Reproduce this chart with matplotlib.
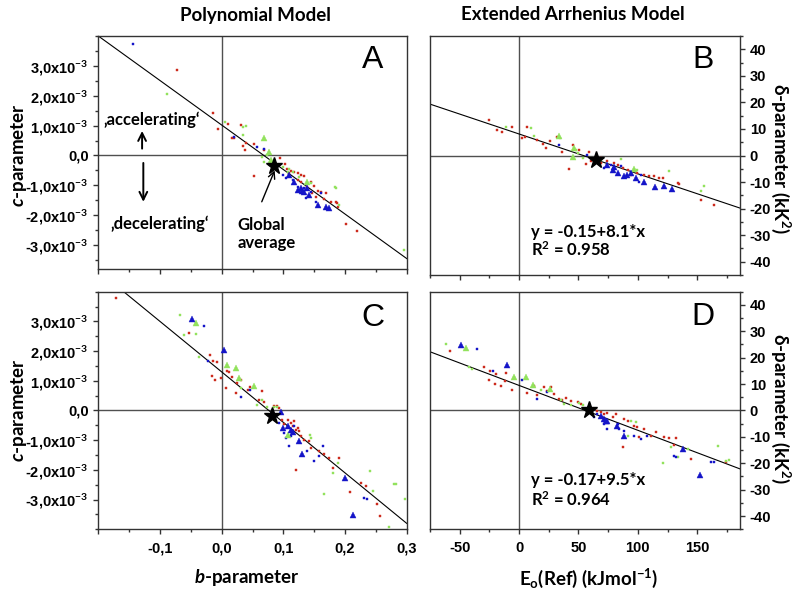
import matplotlib
matplotlib.use("Agg")
import matplotlib.pyplot as plt
from matplotlib.ticker import FixedLocator, MultipleLocator, NullFormatter

# ---- data (A/C y values in units of 1e-3) ----
a_red = [(-0.072, 2.85), (-0.0135, 1.43), (-0.006, 0.90), (0.010, 1.05), (0.032, 1.02),
         (0.016, 0.60), (0.020, 0.59), (0.039, 0.42), (0.034, 0.31), (0.052, 0.40),
         (0.038, 0.20), (0.069, 0.18), (0.053, -0.68), (0.095, -0.07), (0.102, -0.27),
         (0.106, -0.44), (0.112, -0.51), (0.118, -0.55), (0.124, -0.58), (0.128, -0.66),
         (0.134, -0.69), (0.145, -0.88), (0.150, -1.03), (0.157, -1.18), (0.161, -1.22),
         (0.169, -1.27), (0.178, -1.55), (0.185, -1.55), (0.188, -1.72), (0.147, -1.27),
         (0.139, -1.07), (0.124, -0.83), (0.109, -0.60), (0.128, -0.88), (0.153, -1.38),
         (0.166, -1.47), (0.187, -1.60), (0.202, -2.28), (0.219, -2.52)]
a_green = [(-0.089, 2.07), (0.005, 1.125), (0.035, 0.96), (0.039, 0.98), (0.034, 0.68),
           (0.069, -0.21), (0.073, 0.01), (0.099, -0.38), (0.1095, -0.44), (0.115, -0.55),
           (0.145, -0.915), (0.185, -1.105), (0.126, -0.715), (0.107, -0.55), (0.066, -0.046),
           (0.184, -1.07), (0.190, -1.65), (0.296, -3.17)]
a_green_tri = [(0.068, 0.60), (0.077, 0.12), (0.080, -0.135), (0.139, -0.88)]
a_blue = [(-0.1436, 3.72), (0.020, 0.62), (0.058, 0.29), (0.069, 0.23), (0.099, -0.66),
          (0.104, -0.77), (0.115, -0.83), (0.134, -1.105), (0.123, -1.05), (0.137, -1.41),
          (0.145, -1.22), (0.161, -1.27), (0.153, -1.55)]
a_blue_tri = [(0.1095, -0.66), (0.118, -0.88), (0.123, -1.14), (0.128, -1.105), (0.1295, -1.18),
              (0.139, -1.105), (0.142, -1.33), (0.156, -1.66), (0.169, -1.72), (0.1745, -1.77),
              (0.134, -1.22)]
a_star = (0.085, -0.35)
a_fit = (1.02, -14.9)   # intercept, slope

b_red = [(-25.3, 13.4), (-18.2, 9.7), (-14.0, 8.8), (-5.6, 10.7), (7.0, 10.9), (2.8, 6.5),
         (4.8, 6.8), (15.5, 5.9), (20.5, 4.3), (22.5, 3.0), (26.1, 5.3), (31.8, 7.0),
         (36.0, 1.3), (42.1, -5.0), (45.0, 4.0), (50.6, 2.1), (59.0, 1.5), (60.4, -2.2),
         (68.8, -1.0), (74.4, -2.2), (80.1, -2.9), (82.9, -3.5), (87.1, -4.7), (91.3, -5.4),
         (94.1, -7.3), (99.7, -6.6), (105.3, -7.3), (109.5, -7.9), (113.8, -7.9), (118.0, -8.5),
         (120.8, -8.5), (133.4, -10.4), (134.8, -10.8), (153.1, -16.7), (164.3, -18.5),
         (68.8, -2.9), (56.2, -3.2)]
b_green = [(-11.2, 10.9), (9.9, 10.3), (12.7, 7.5), (34.6, 6.5), (47.8, 2.1), (49.7, 0.9),
           (53.4, -1.0), (63.2, -1.6), (68.8, -1.6), (85.7, -1.4), (126.4, -5.8), (155.9, -11.6),
           (153.1, -13.3), (99.7, -5.4)]
b_green_tri = [(33.7, 7.5), (46.4, 3.0), (45.0, -0.4), (96.9, -5.0)]
b_blue = [(33.7, 4.0), (57.6, 0.3), (71.6, -4.7), (78.7, -5.4), (102.5, -7.3), (101.1, -10.0),
          (85.7, -4.1), (77.3, -3.5)]
b_blue_tri = [(74.4, -3.7), (80.1, -4.5), (82.9, -6.6), (88.5, -7.9), (90.7, -7.3), (94.1, -6.6),
              (98.3, -8.5), (105.3, -10.0), (114.3, -11.9), (121.6, -11.3), (128.4, -12.6),
              (78.7, -5.4)]
b_star = (64.6, -1.6)
b_fit = (8.1, -0.15)

c_red = [(-0.172, 3.79), (-0.053, 2.62), (-0.019, 1.86), (-0.0136, 1.66), (-0.007, 1.64),
         (-0.015, 1.16), (-0.010, 1.03), (-0.0016, 1.08), (0.008, 1.33), (0.012, 1.31),
         (0.0076, 0.75), (0.017, 1.12), (0.0255, 0.94), (0.031, 1.03), (0.024, 0.60),
         (0.042, 0.69), (0.046, 0.78), (0.066, 0.67), (0.061, 0.36), (0.068, 0.30),
         (0.085, 0.16), (0.0905, 0.16), (0.0986, -0.31), (0.107, -0.31), (0.112, -0.42),
         (0.118, -0.37), (0.115, -0.51), (0.120, -0.645), (0.126, -0.70), (0.1285, -0.87),
         (0.134, -0.98), (0.142, -1.04), (0.1447, -1.26), (0.158, -1.37), (0.166, -1.48),
         (0.1745, -1.59), (0.191, -1.59), (0.180, -1.93), (0.120, -2.01), (0.208, -2.76),
         (0.234, -2.54), (0.252, -3.15), (0.2575, -3.54), (0.093, 0.08), (0.101, -0.445),
         (0.123, -0.59), (0.226, -2.43)]
c_green = [(-0.067, 3.20), (-0.061, 2.53), (-0.042, 2.59), (-0.037, 1.81), (0.031, 0.75),
           (0.058, 0.19), (0.066, 0.36), (0.074, 0.13), (0.085, 0.13), (0.0905, 0.11),
           (0.112, -0.70), (0.1436, -0.81), (0.1447, -0.92), (0.180, -2.09), (0.188, -1.76),
           (0.166, -2.80), (0.240, -2.04), (0.245, -2.71), (0.283, -2.48), (0.2965, -2.99),
           (0.272, -3.93), (0.107, -0.87), (0.280, -2.46)]
c_green_tri = [(-0.042, 2.94), (0.009, 1.53), (0.024, 1.42), (0.028, 1.08), (0.053, 0.83),
               (0.107, -0.81)]
c_blue = [(-0.028, 2.84), (-0.022, 1.66), (0.031, 0.47), (0.046, 0.69), (0.093, -0.42),
          (0.101, -0.76), (0.104, -0.92), (0.1095, -1.18), (0.112, -0.87), (0.139, -1.37),
          (0.149, -1.70), (0.158, -1.54), (0.165, -1.20), (0.231, -2.93), (0.236, -2.99),
          (0.118, -0.53)]
c_blue_tri = [(-0.048, 3.07), (0.004, 2.05), (0.096, -0.066), (0.107, -0.51), (0.115, -0.73),
              (0.126, -1.04), (0.1295, -1.46), (0.2005, -2.28), (0.2125, -3.52), (0.100, -0.59),
              (0.112, -0.67)]
c_star = (0.081, -0.19)
c_fit = (1.30, -17.0)

d_red = [(-58.1, 22.7), (-29.5, 16.4), (-24.4, 14.9), (-19.6, 13.9), (-25.2, 11.4), (-20.5, 10.1),
         (-14.9, 9.1), (-12.0, 11.1), (-11.2, 14.1), (-5.6, 7.6), (-4.2, 12.4), (7.0, 6.6),
         (12.7, 9.1), (15.5, 5.7), (21.1, 8.8), (23.9, 7.2), (26.7, 8.8), (29.5, 6.1),
         (33.7, 4.4), (36.5, 3.8), (39.3, 4.8), (43.6, 3.5), (49.2, 3.4), (52.0, 2.3),
         (66.0, -0.25), (68.8, -0.6), (71.6, -1.3), (74.4, -1.0), (78.7, -2.5), (81.5, -1.5),
         (88.5, -3.2), (91.3, -3.8), (96.9, -5.7), (99.7, -6.3), (101.1, -10.1), (105.3, -6.9),
         (111.0, -9.5), (115.2, -8.2), (122.2, -10.1), (126.4, -10.4), (132.0, -10.4),
         (87.1, -13.9), (130.6, -12.9), (144.7, -18.3), (174.1, -19.6)]
d_green = [(-61.8, 25.3), (-42.1, 16.4), (-39.3, 15.8), (18.3, 7.6), (35.1, 3.8), (37.9, 2.5),
           (43.6, 1.9), (50.6, 2.8), (53.4, 1.9), (60.4, 0.6), (94.1, -3.8), (98.3, -4.2),
           (91.3, -9.5), (127.8, -13.9), (133.4, -17.7), (120.8, -20.0), (141.8, -14.5),
           (167.1, -13.3), (174.1, -19.2), (176.4, -18.7)]
d_green_tri = [(-44.9, 23.6), (-4.2, 12.6), (5.6, 12.6), (11.3, 9.5), (26.1, 8.2)]
d_blue = [(-35.1, 23.2), (-21.6, 14.9), (2.8, 11.6), (15.5, 4.4), (23.9, 6.9), (63.2, -2.5),
          (66.0, -1.5), (71.6, -5.1), (74.4, -6.9), (82.9, -5.3), (84.3, -6.9), (88.5, -7.6),
          (96.9, -9.5), (102.5, -10.7), (108.1, -9.5), (130.6, -17.4), (132.0, -17.7),
          (161.5, -19.6), (163.7, -19.6)]
d_blue_tri = [(-49.1, 24.9), (-10.4, 17.4), (59.0, 1.5), (68.8, -1.9), (71.6, -3.2), (74.4, -3.8),
              (82.3, -5.8), (88.5, -9.5), (137.6, -14.5), (152.5, -24.6), (73.0, -3.8)]
d_star = (58.5, 0.0)
d_fit = (9.5, -0.17)

poly_yticks = [-3, -2, -1, 0, 1, 2, 3]
poly_ylabels = ['-3,0x10$^{\\mathbf{-3}}$', '-2,0x10$^{\\mathbf{-3}}$', '-1,0x10$^{\\mathbf{-3}}$',
                '0,0', '1,0x10$^{\\mathbf{-3}}$', '2,0x10$^{\\mathbf{-3}}$', '3,0x10$^{\\mathbf{-3}}$']
poly_xticks = [-0.2, -0.1, 0.0, 0.1, 0.2, 0.3]
poly_xlabels = ['', '-0,1', '0,0', '0,1', '0,2', '0,3']
arr_yticks = [-40, -30, -20, -10, 0, 10, 20, 30, 40]
arr_xticks = [-50, 0, 50, 100, 150]

RED = '#cc2a1c'
GREEN = '#92e25c'
BLUE = '#1414c8'
TICKFONT = dict(family='Liberation Sans', weight='bold', size=10.5)

plt.rcParams['font.family'] = ['Lato', 'DejaVu Sans']
plt.rcParams['mathtext.fontset'] = 'custom'
plt.rcParams['mathtext.rm'] = 'Lato'
plt.rcParams['mathtext.bf'] = 'Lato:bold'
plt.rcParams['mathtext.it'] = 'Lato:italic:bold'

fig = plt.figure(figsize=(8, 5.92), dpi=100)
W, H = 800, 592


def box(l, t, r, b):
    return [l / W, 1 - b / H, (r - l) / W, (b - t) / H]


def draw(ax, red, green, green_tri, blue, blue_tri, star, fit):
    ax.axhline(0, color='#505050', lw=1.0, zorder=1)
    ax.axvline(0, color='#505050', lw=1.0, zorder=1)
    ax.axline((0, fit[0]), slope=fit[1], color='black', lw=0.8, zorder=2)
    for pts, c, m, s in [(red, RED, 's', 2.0), (green, GREEN, 's', 2.0), (blue, BLUE, 's', 2.0),
                         (green_tri, GREEN, '^', 4.0), (blue_tri, BLUE, '^', 4.0)]:
        xs = [p[0] for p in pts]
        ys = [p[1] for p in pts]
        ax.plot(xs, ys, ls='none', marker=m, ms=s, color=c, mec=c, mew=0.3, zorder=3)
    ax.plot([star[0]], [star[1]], ls='none', marker='*', ms=12.5, color='black', zorder=4)
    for sp in ax.spines.values():
        sp.set_color('#333333')
        sp.set_linewidth(1.0)
    ax.tick_params(which='major', direction='out', length=3.5, width=1, color='#333333')
    ax.tick_params(which='minor', direction='out', length=2, width=1, color='#333333')


ax_a = fig.add_axes(box(98.3, 36, 406.7, 269))
ax_b = fig.add_axes(box(430, 36, 740, 275))
ax_c = fig.add_axes(box(98.3, 291.7, 406.7, 529.3))
ax_d = fig.add_axes(box(430, 291.7, 740, 529.3))

draw(ax_a, a_red, a_green, a_green_tri, a_blue, a_blue_tri, a_star, a_fit)
draw(ax_b, b_red, b_green, b_green_tri, b_blue, b_blue_tri, b_star, b_fit)
draw(ax_c, c_red, c_green, c_green_tri, c_blue, c_blue_tri, c_star, c_fit)
draw(ax_d, d_red, d_green, d_green_tri, d_blue, d_blue_tri, d_star, d_fit)

for ax, ylim, show_x in [(ax_a, (-3.8, 4.0), False), (ax_c, (-4.0, 4.0), True)]:
    ax.set_xlim(-0.2, 0.3)
    ax.set_ylim(*ylim)
    ax.yaxis.set_major_locator(FixedLocator(poly_yticks))
    ax.yaxis.set_minor_locator(MultipleLocator(0.5))
    ax.set_yticklabels(poly_ylabels, fontdict=TICKFONT)
    ax.xaxis.set_major_locator(FixedLocator(poly_xticks))
    ax.xaxis.set_minor_locator(MultipleLocator(0.05))
    if show_x:
        ax.set_xticklabels(poly_xlabels, fontdict=TICKFONT)
    else:
        ax.xaxis.set_major_formatter(NullFormatter())
    ax.tick_params(axis='x', pad=5)

for ax, show_x in [(ax_b, False), (ax_d, True)]:
    ax.set_xlim(-75, 186)
    ax.set_ylim(-45, 45)
    ax.yaxis.tick_right()
    ax.yaxis.set_major_locator(FixedLocator(arr_yticks))
    ax.yaxis.set_minor_locator(MultipleLocator(5))
    ax.set_yticklabels([str(v) for v in arr_yticks], fontdict=TICKFONT)
    ax.xaxis.set_major_locator(FixedLocator(arr_xticks))
    ax.xaxis.set_minor_locator(MultipleLocator(25))
    if show_x:
        ax.set_xticklabels([str(v) for v in arr_xticks], fontdict=TICKFONT)
    else:
        ax.xaxis.set_major_formatter(NullFormatter())
    ax.tick_params(axis='x', pad=5)

for ax, letter, pos in [(ax_a, 'A', (0.89, 0.897)), (ax_b, 'B', (0.882, 0.9)),
                        (ax_c, 'C', (0.892, 0.888)), (ax_d, 'D', (0.882, 0.895))]:
    ax.text(*pos, letter, transform=ax.transAxes, ha='center', va='center',
            family='Liberation Sans', fontsize=23)

# annotations in panel A
lab = dict(fontsize=12, fontweight='bold')
ax_a.text(-0.113, 1.2, '\u201aaccelerating\u2018', ha='center', va='center', **lab)
ax_a.text(-0.101, -2.27, '\u201adecelerating\u2018', ha='center', va='center', **lab)
ax_a.annotate('', xy=(-0.129, 0.82), xytext=(-0.129, 0.23),
              arrowprops=dict(arrowstyle='->', lw=1.4, color='black', mutation_scale=14,
                              shrinkA=0, shrinkB=0))
ax_a.annotate('', xy=(-0.127, -1.55), xytext=(-0.127, -0.25),
              arrowprops=dict(arrowstyle='->', lw=1.4, color='black', mutation_scale=14,
                              shrinkA=0, shrinkB=0))
ax_a.text(0.0255, -2.63, 'Global\naverage', ha='left', va='center', linespacing=1.2, **lab)
ax_a.annotate('', xy=(0.086, -0.5), xytext=(0.065, -1.55),
              arrowprops=dict(arrowstyle='->', lw=1.0, color='black', mutation_scale=12,
                              shrinkA=0, shrinkB=0))

ax_b.text(0.325, 0.181, 'y = -0.15+8.1*x', transform=ax_b.transAxes, va='center', **lab)
ax_b.text(0.325, 0.105, 'R$^{\\mathbf{2}}$ = 0.958', transform=ax_b.transAxes, va='center', **lab)
ax_d.text(0.325, 0.2075, 'y = -0.17+9.5*x', transform=ax_d.transAxes, va='center', **lab)
ax_d.text(0.325, 0.123, 'R$^{\\mathbf{2}}$ = 0.964', transform=ax_d.transAxes, va='center', **lab)

big = dict(fontsize=13.5, fontweight='bold', ha='center', va='center')
fig.text(255 / W, 1 - 15 / H, 'Polynomial Model', **big)
fig.text(573 / W, 1 - 15 / H, 'Extended Arrhenius Model', **big)
fig.text(247 / W, 1 - 578 / H, '$\\mathit{b}$-parameter', **big)
fig.text(589 / W, 1 - 578 / H, 'E$_{\\mathbf{o}}$(Ref) (kJmol$^{\\mathbf{-1}}$)', **big)
for yc in (155, 410):
    fig.text(19 / W, 1 - yc / H, '$\\mathit{c}$-parameter', rotation=90, **big)
for yc in (159, 409):
    fig.text(781 / W, 1 - yc / H, '\u03b4-parameter (kK$^{\\mathbf{2}}$)', rotation=270, **big)

fig.savefig('out.png', dpi=100)
